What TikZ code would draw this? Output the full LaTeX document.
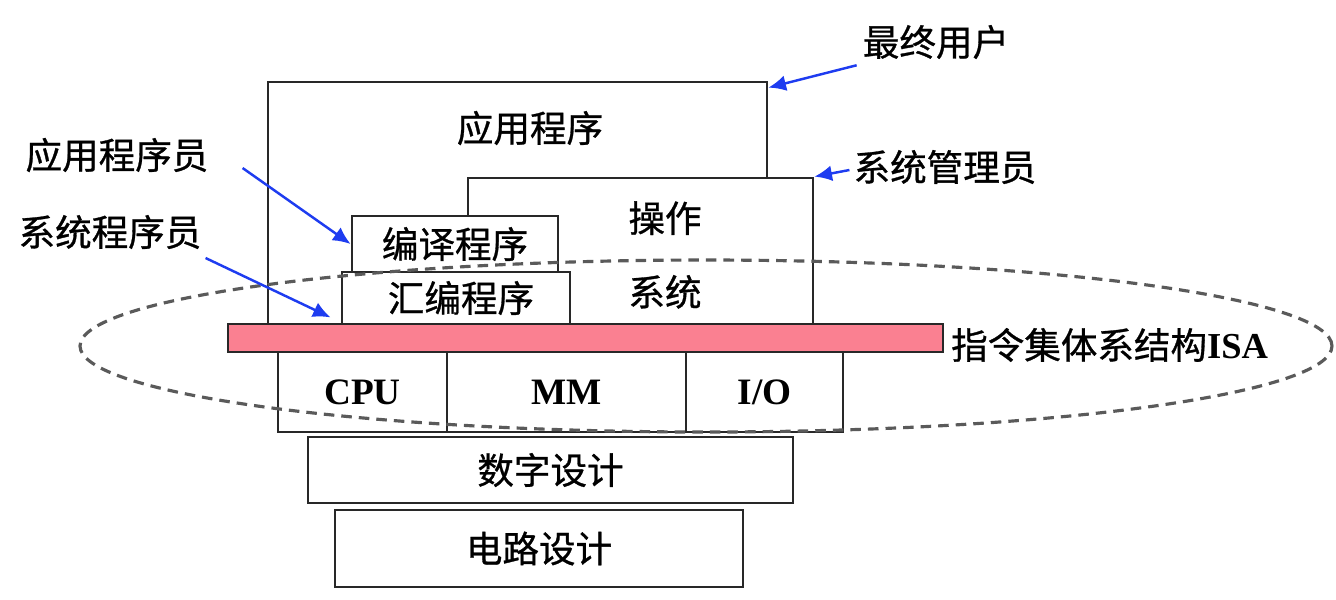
\documentclass[tikz,border=0pt]{standalone}
\usepackage{fontspec}
\setmainfont{Noto Sans CJK SC}[FakeBold=0.8]
\newfontfamily\latinfont{Liberation Serif}
\definecolor{isapink}{RGB}{250, 128, 145}
\definecolor{userblue}{RGB}{30, 60, 240}
\definecolor{ringgray}{RGB}{90, 90, 90}
\definecolor{edgeblack}{RGB}{40, 40, 40}
\usetikzlibrary{arrows.meta, positioning, calc}

\tikzset{
  layerbox/.style={draw=edgeblack, fill=white, line width=0.8pt, rectangle, inner sep=0pt},
  zhtext/.style={font=\fontsize{10.4pt}{12pt}\selectfont, inner sep=1pt},
  hwtext/.style={font=\fontsize{10.6pt}{12pt}\selectfont\latinfont\bfseries},
  roleArrow/.style={draw=userblue, line width=0.7pt, -{Latex[length=5pt,width=4.5pt]}}
}

\begin{document}
\begin{tikzpicture}
  \useasboundingbox (0,0) rectangle (13.36,-5.99);

  % Software layers
  \node[layerbox, minimum width=4.99cm, minimum height=2.42cm] (app) at (5.175,-2.03) {};
  \node[zhtext] (apptxt) at (5.30,-1.28) {应用程序};
  \node[layerbox, minimum width=3.45cm, minimum height=1.46cm] (os) at (6.405,-2.51) {};
  \node[zhtext, align=center] (ostxt) at (6.65,-2.55) {操作\\[9pt]系统};
  \node[layerbox, minimum width=2.06cm, minimum height=0.56cm, zhtext] (compiler) at (4.55,-2.44) {编译程序};
  \node[layerbox, minimum width=2.28cm, minimum height=0.52cm, zhtext] (assembler) at (4.56,-2.98) {\hspace{0.1cm}汇编程序};

  % ISA bar
  \node[layerbox, fill=isapink, minimum width=7.15cm, minimum height=0.28cm] (isa) at (5.855,-3.38) {};
  \node[zhtext, anchor=west] (isatxt) at (9.47,-3.45) {指令集体系结构{\latinfont\bfseries ISA}};

  % Hardware
  \node[layerbox, minimum width=1.69cm, minimum height=0.80cm, hwtext] (cpu) at (3.625,-3.92) {CPU};
  \node[layerbox, minimum width=2.39cm, minimum height=0.80cm, hwtext] (mm) at (5.665,-3.92) {\raisebox{-2pt}{MM}};
  \node[layerbox, minimum width=1.57cm, minimum height=0.80cm, hwtext] (io) at (7.645,-3.92) {I/O};
  \node[layerbox, minimum width=4.85cm, minimum height=0.66cm, zhtext] (digital) at (5.505,-4.70) {\raisebox{-2pt}{数字设计}};
  \node[layerbox, minimum width=4.08cm, minimum height=0.77cm, zhtext] (circuit) at (5.39,-5.485) {\raisebox{-1pt}{电路设计}};

  % ISA boundary
  \draw[ringgray, dashed, dash pattern=on 3pt off 2pt, line width=0.9pt] (7.06,-3.46) ellipse (6.26 and 0.86);

  % Roles
  \node[zhtext] (enduser) at (9.36,-0.42) {最终用户};
  \node[zhtext] (sysadmin) at (9.45,-1.67) {系统管理员};
  \node[zhtext] (appprog) at (1.17,-1.55) {应用程序员};
  \node[zhtext] (sysprog) at (1.10,-2.32) {系统程序员};

  \draw[roleArrow] ($(enduser.south west)+(-0.02,-0.02)$) -- ([yshift=-2pt]app.north east);
  \draw[roleArrow] ($(sysadmin.west)+(0,-0.03)$) -- (os.north east);
  \draw[roleArrow] ($(appprog.east)+(0.3,-0.13)$) -- (compiler.west);
  \draw[roleArrow] ($(sysprog.east)+(0.0,-0.26)$) -- ($(assembler.south west)+(-0.1,0.08)$);
\end{tikzpicture}
\end{document}
